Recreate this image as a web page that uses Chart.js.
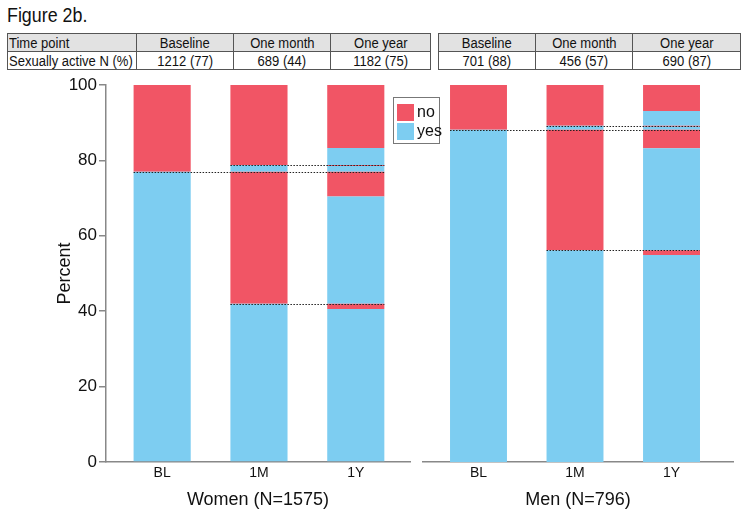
<!DOCTYPE html>
<html>
<head>
<meta charset="utf-8">
<script src="https://cdn.jsdelivr.net/npm/chart.js@4.4.1/dist/chart.umd.min.js"></script>
<style>
body { margin: 0; background: #fff; }
#page { position: relative; width: 745px; height: 519px; overflow: hidden; color: #111; font-family: "Liberation Sans", Arial, sans-serif; }
#fig { position: absolute; left: 7px; top: 3px; font-size: 21px; transform: scaleX(0.85); transform-origin: left top; }
table { position: absolute; top: 33px; border-collapse: collapse; table-layout: fixed; font-size: 15.5px; }
td { border: 1px solid #555; height: 17px; line-height: 17px; padding: 0 1px; text-align: center; white-space: nowrap; overflow: hidden; }
td span { display: inline-block; transform: scaleX(0.84); }
td.lab span { transform-origin: left center; }
tr.head td { background: #e2e2e2; }
td.lab { text-align: left; }
#t1 { left: 7px; width: 423px; }
#t2 { left: 438px; width: 302px; }
canvas { position: absolute; top: 0; }
#legend { position: absolute; left: 393px; top: 97px; width: 45px; height: 45px; border: 1px solid #777; background: #fff; z-index: 2; font-size: 16px; }
#legend .sw { position: absolute; left: 3px; width: 17px; height: 17px; }
#legend .tx { position: absolute; left: 23px; line-height: 17px; }
</style>
</head>
<body>
<div id="page">
  <div id="fig">Figure 2b.</div>
  <table id="t1"></table>
  <table id="t2"></table>
  <canvas id="women" width="415" height="519" style="left:0"></canvas>
  <canvas id="men" width="330" height="519" style="left:415px"></canvas>
  <div id="legend">
    <div class="sw" style="top:6px;background:#F15565"></div><div class="tx" style="top:5px">no</div>
    <div class="sw" style="top:25px;background:#7DCDF1"></div><div class="tx" style="top:24px">yes</div>
  </div>
</div>
<script>
const RED = '#F15565'
const BLUE = '#7DCDF1'

// table at the top
const timePoints = ['Baseline', 'One month', 'One year']
const womenActive = ['1212 (77)', '689 (44)', '1182 (75)']
const menActive = ['701 (88)', '456 (57)', '690 (87)']

// x categories
const categories = ['BL', '1M', '1Y']

// stacked segments from the bottom, alternating yes / no (percent)
const womenBL = [77.0, 23.0]
const women1M = [42.0, 35.0, 1.8, 21.2]
const women1Y = [40.6, 1.4, 28.4, 6.6, 1.5, 0.3, 4.5, 16.7]

const menBL = [88.1, 11.9]
const men1M = [56.2, 31.9, 1.1, 10.8]
const men1Y = [54.9, 1.3, 27.0, 4.9, 0.8, 0.3, 3.9, 6.9]

function fillTable(id, cells, withLabels) {
    const t = document.getElementById(id)
    const w = withLabels ? [129, 97, 97, 100] : [97, 97, 108]
    const cell = (s, cls) => '<td' + (cls ? ' class="' + cls + '"' : '') + '><span>' + s + '</span></td>'
    let html = '<colgroup>' + w.map(x => '<col style="width:' + x + 'px">').join('') + '</colgroup>'
    html += '<tr class="head">' + (withLabels ? cell('Time point', 'lab') : '') +
        timePoints.map(s => cell(s)).join('') + '</tr>'
    html += '<tr>' + (withLabels ? cell('Sexually active N (%)', 'lab') : '') +
        cells.map(s => cell(s)).join('') + '</tr>'
    t.innerHTML = html
}
fillTable('t1', womenActive, true)
fillTable('t2', menActive, false)

Chart.defaults.font.family = '"Liberation Sans", Arial, sans-serif'
Chart.defaults.color = '#111'

function makeChart(id, segs, title, showY, xMin, xMax, pad) {
    const datasets = []
    for (let i = 0; i < 8; i++) {
        datasets.push({
            label: i % 2 === 0 ? 'yes' : 'no',
            data: segs.map((s, j) => ({ x: j, y: s[i] || 0 })),
            backgroundColor: i % 2 === 0 ? BLUE : RED,
            stack: 's',
            barPercentage: 0.59,
            categoryPercentage: 1
        })
    }
    const bl = segs[0], m1 = segs[1]
    const levels = [
        { from: 0, value: bl[0] },
        { from: 1, value: m1[0] },
        { from: 1, value: m1[0] + m1[1] + m1[2] }
    ]
    const dotted = {
        id: 'dotted' + id,
        afterDatasetsDraw(chart) {
            const meta = chart.getDatasetMeta(0)
            const y = chart.scales.y
            const ctx = chart.ctx
            ctx.save()
            ctx.strokeStyle = '#222'
            ctx.lineWidth = 1.2
            ctx.setLineDash([1.5, 1.5])
            levels.forEach(l => {
                const a = meta.data[l.from], b = meta.data[2]
                const py = Math.round(y.getPixelForValue(l.value)) + 0.5
                ctx.beginPath()
                ctx.moveTo(a.x - a.width / 2, py)
                ctx.lineTo(b.x + b.width / 2, py)
                ctx.stroke()
            })
            ctx.restore()
        }
    }
    return new Chart(document.getElementById(id), {
        type: 'bar',
        data: { datasets: datasets },
        plugins: [dotted],
        options: {
            responsive: false,
            animation: false,
            events: [],
            layout: { padding: pad },
            plugins: { legend: { display: false }, tooltip: { enabled: false } },
            scales: {
                x: {
                    type: 'linear',
                    offset: false,
                    min: xMin,
                    max: xMax,
                    stacked: true,
                    grid: { display: false, drawTicks: false, offset: false },
                    border: { color: '#888', width: 1.5 },
                    ticks: { font: { size: 14 }, padding: 3, callback: v => categories[v] },
                    afterBuildTicks: s => { s.ticks = categories.map((c, i) => ({ value: i })) },
                    title: { display: true, text: title, font: { size: 18 }, padding: { top: 0, bottom: 0 } },
                    afterFit: s => { s.height = 49 }
                },
                y: {
                    display: showY,
                    min: 0,
                    max: 100,
                    stacked: true,
                    ticks: { stepSize: 20, font: { size: 17 }, padding: 2 },
                    grid: { drawOnChartArea: false, tickLength: 7, color: '#888', lineWidth: 1.5 },
                    border: { color: '#888', width: 1.5 },
                    title: { display: true, text: 'Percent', font: { size: 18 }, padding: 0 },
                    afterFit: s => { s.width = showY ? 52 : 0 }
                }
            }
        }
    })
}

makeChart('women', [womenBL, women1M, women1Y], 'Women (N=1575)', true, -0.58, 2.56,
    { top: 85, bottom: 8, left: 54, right: 5 })
makeChart('men', [menBL, men1M, men1Y], 'Men (N=796)', false, -0.575, 2.637,
    { top: 85, bottom: 8, left: 8, right: 12 })
</script>
</body>
</html>
